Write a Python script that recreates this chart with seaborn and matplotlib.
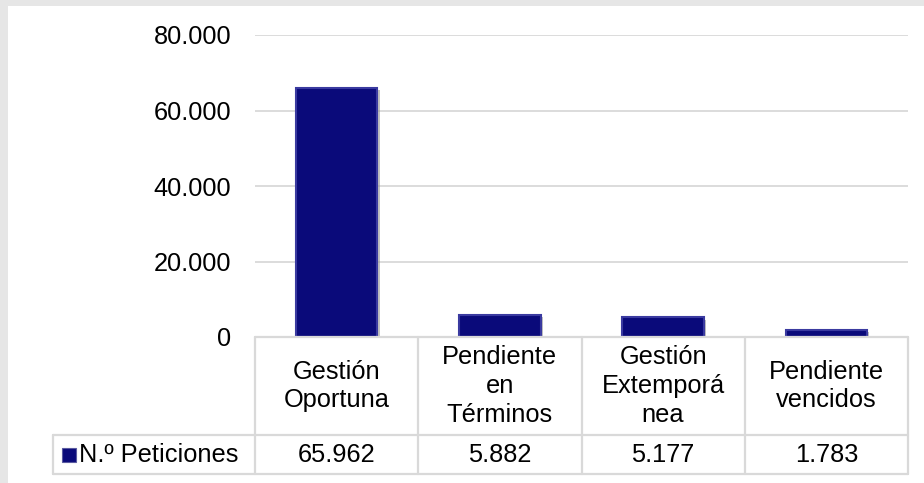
import matplotlib
matplotlib.use("Agg")
import matplotlib.pyplot as plt
import seaborn as sns
import pandas as pd
from matplotlib.patches import Rectangle
from matplotlib.lines import Line2D
import matplotlib.patheffects as pe

categories = ["Gestión\nOportuna", "Pendiente\nen\nTérminos", "Gestión\nExtemporá\nnea", "Pendiente\nvencidos"]
values = [65962, 5882, 5177, 1783]
value_labels = ["65.962", "5.882", "5.177", "1.783"]
yticks = [0, 20000, 40000, 60000, 80000]
ytick_labels = ["0", "20.000", "40.000", "60.000", "80.000"]
series_name = "N.º Peticiones"

sns.set_theme(style="white")
plt.rcParams["font.family"] = ["Liberation Sans", "DejaVu Sans"]

FS = 18.3
W, H = 924, 483
fig = plt.figure(figsize=(W / 100, H / 100), dpi=100)
fig.patch.set_facecolor("white")
# gray frame on left/top
fig.patches.append(Rectangle((0, 0), 1, 1, transform=fig.transFigure, facecolor="#e6e6e6", edgecolor="none", zorder=-10))
fig.patches.append(Rectangle((8 / W, 0), 1, 1 - 6 / H, transform=fig.transFigure, facecolor="white", edgecolor="none", zorder=-9))

x0, x1 = 255, 908
ytop, ybot = 35, 337
ax = fig.add_axes([x0 / W, 1 - ybot / H, (x1 - x0) / W, (ybot - ytop) / H])
ax.set_facecolor("none")

df = pd.DataFrame({"cat": categories, "val": values})
sns.barplot(data=df, x="cat", y="val", ax=ax, color="#0a0a7a", width=0.5,
            edgecolor="#3a3aa0", linewidth=1.5, saturation=1, zorder=3)
for p in ax.patches:
    p.set_path_effects([pe.SimplePatchShadow(offset=(1.5, -1.5), shadow_rgbFace="#999999", alpha=0.6), pe.Normal()])

ax.set_ylim(0, 80000)
ax.set_xlim(-0.5, len(categories) - 0.5)
ax.set_yticks(yticks)
ax.set_yticklabels(ytick_labels, fontsize=FS, color="#000000")
ax.tick_params(axis="y", length=0, pad=17)
ax.set_xticks([])
ax.set_xlabel("")
ax.set_ylabel("")
for s in ax.spines.values():
    s.set_visible(False)
for t in yticks[1:]:
    ax.axhline(t, color="#d9d9d9", lw=1.3, zorder=1)

# data table below the plot (figure pixel coordinates)
def fx(px):
    return px / W

def fy(py):
    return 1 - py / H

lc = "#d9d9d9"
lw = 1.6
row_mid, row_bot = 435, 474
leg_x = 53
ncat = len(categories)
colw = (x1 - x0) / ncat

def line(xa, ya, xb, yb):
    fig.add_artist(Line2D([fx(xa), fx(xb)], [fy(ya), fy(yb)], transform=fig.transFigure, color=lc, lw=lw, zorder=5))

line(x0, ybot, x1, ybot)
line(leg_x, row_mid, x1, row_mid)
line(leg_x, row_bot, x1, row_bot)
line(leg_x, row_mid, leg_x, row_bot)
for i in range(ncat + 1):
    line(x0 + i * colw, ybot, x0 + i * colw, row_bot)

for i, (c, v) in enumerate(zip(categories, value_labels)):
    cx = x0 + (i + 0.5) * colw
    fig.text(fx(cx), fy((ybot + row_mid) / 2), c, ha="center", va="center",
             fontsize=FS, linespacing=1.24, color="#000000")
    fig.text(fx(cx), fy((row_mid + row_bot) / 2 + 1), v, ha="center", va="center",
             fontsize=FS, color="#000000")

# legend key
fig.patches.append(Rectangle((fx(62), fy(462)), fx(14), 14 / H, transform=fig.transFigure,
                             facecolor="#0a0a7a", edgecolor="#5a5aa0", lw=0.8, zorder=6))
fig.text(fx(79), fy((row_mid + row_bot) / 2 + 1), series_name, ha="left", va="center",
         fontsize=FS, color="#000000")

fig.savefig("out.png", dpi=100)
